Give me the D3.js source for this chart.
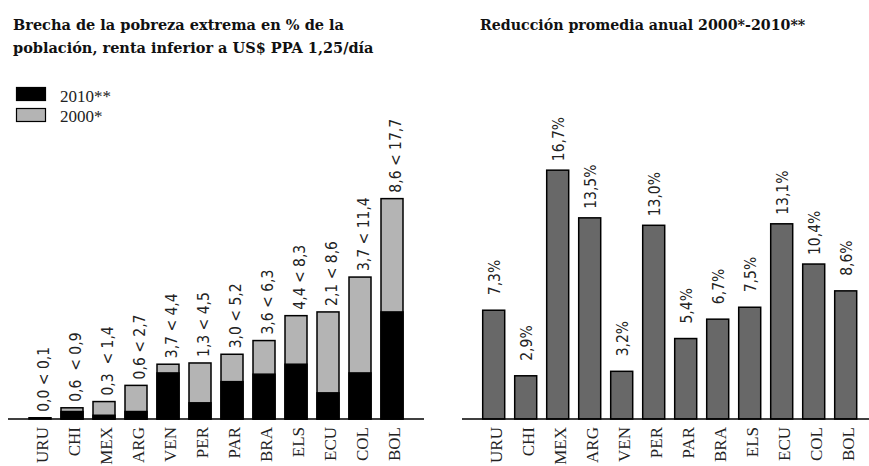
<!DOCTYPE html>
<html><head><meta charset="utf-8">
<script src="https://cdn.jsdelivr.net/npm/d3@7/dist/d3.min.js"></script>
<style>
body{margin:0;background:#fff;}
svg text{white-space:pre;}
</style></head>
<body>
<script>
const categories = ["URU","CHI","MEX","ARG","VEN","PER","PAR","BRA","ELS","ECU","COL","BOL"];
const gap2000 = [0.1,0.9,1.4,2.7,4.4,4.5,5.2,6.3,8.3,8.6,11.4,17.7];
const gap2010 = [0.0,0.6,0.3,0.6,3.7,1.3,3.0,3.6,4.4,2.1,3.7,8.6];
const gapLabels = ["0,0 < 0,1","0,6  < 0,9","0,3  < 1,4","0,6 < 2,7","3,7 < 4,4","1,3 < 4,5","3,0 < 5,2","3,6 < 6,3","4,4 < 8,3","2,1 < 8,6","3,7 < 11,4","8,6 < 17,7"];
const reduction = [7.3,2.9,16.7,13.5,3.2,13.0,5.4,6.7,7.5,13.1,10.4,8.6];
const reductionLabels = ["7,3%","2,9%","16,7%","13,5%","3,2%","13,0%","5,4%","6,7%","7,5%","13,1%","10,4%","8,6%"];
const legendItems = ["2010**","2000*"];
const titleLeft = ["Brecha de la pobreza extrema en % de la","población, renta inferior a US$ PPA 1,25/día"];
const titleRight = ["Reducción promedia anual 2000*-2010**"];

const W=869,H=466, base=419;
const svg=d3.select("body").append("svg").attr("width",W).attr("height",H);
const serif="'Liberation Serif','Times New Roman',serif";
const tserif="'DejaVu Serif',serif";
const sans="'DejaVu Sans Condensed','DejaVu Sans',sans-serif";

// titles
svg.append("g").selectAll("text").data(titleLeft).join("text")
  .attr("x",13).attr("y",(d,i)=>30+i*23).text(d=>d)
  .attr("font-family",tserif).attr("font-weight","bold").attr("font-size",14.5).attr("fill","#111");
svg.append("g").selectAll("text").data(titleRight).join("text")
  .attr("x",480).attr("y",30).text(d=>d)
  .attr("font-family",tserif).attr("font-weight","bold").attr("font-size",14.2).attr("fill","#111");

// legend
const legColors=["#000","#b4b4b4"];
const lg=svg.append("g");
legendItems.forEach((t,i)=>{
  lg.append("rect").attr("x",16.5).attr("y",87.5+i*21).attr("width",29).attr("height",13)
    .attr("fill",legColors[i]).attr("stroke","#000").attr("stroke-width",1.2);
  lg.append("text").attr("x",60).attr("y",102+i*20).text(t)
    .attr("font-family",serif).attr("font-size",17).attr("fill","#222");
});

// left panel
const xL=d3.scaleBand().domain(categories).range([24,408]).paddingInner(0.3125).paddingOuter(0.15625);
const yL=d3.scaleLinear().domain([0,20]).range([base,base-249]);
const gL=svg.append("g");
gL.selectAll("rect.g2000").data(categories).join("rect").attr("class","g2000")
  .attr("x",d=>xL(d)).attr("width",xL.bandwidth())
  .attr("y",(d,i)=>yL(gap2000[i])).attr("height",(d,i)=>base-yL(gap2000[i]))
  .attr("fill","#b4b4b4").attr("stroke","#000").attr("stroke-width",1.5);
gL.selectAll("rect.g2010").data(categories).join("rect").attr("class","g2010")
  .attr("x",d=>xL(d)).attr("width",xL.bandwidth())
  .attr("y",(d,i)=>yL(gap2010[i])).attr("height",(d,i)=>base-yL(gap2010[i]))
  .attr("fill","#000").attr("stroke","#000").attr("stroke-width",1.5);
gL.selectAll("text.lab").data(categories).join("text").attr("class","lab")
  .attr("transform",(d,i)=>`translate(${xL(d)+xL.bandwidth()/2+4},${yL(gap2000[i])-6}) rotate(-90)`)
  .attr("dy","0.35em").text((d,i)=>gapLabels[i])
  .attr("font-family",sans).attr("font-size",15.5).attr("fill","#222");
const axL=svg.append("g").attr("transform",`translate(0,${base})`)
  .call(d3.axisBottom(xL).tickSize(0).tickPadding(0));
axL.select(".domain").remove();
axL.append("line").attr("x1",8).attr("x2",424).attr("stroke","#000").attr("stroke-width",1.5);
axL.selectAll(".tick text").attr("transform","translate(2,8) rotate(-90)")
  .attr("text-anchor","end").attr("dy","0.35em").attr("y",0).attr("x",0)
  .attr("font-family",serif).attr("font-size",17).attr("fill","#222");

// right panel
const xR=d3.scaleBand().domain(categories).range([477.7,861.7]).paddingInner(0.3125).paddingOuter(0.15625);
const yR=d3.scaleLinear().domain([0,18]).range([base,base-268.2]);
const gR=svg.append("g");
gR.selectAll("rect").data(categories).join("rect")
  .attr("x",d=>xR(d)).attr("width",xR.bandwidth())
  .attr("y",(d,i)=>yR(reduction[i])).attr("height",(d,i)=>base-yR(reduction[i]))
  .attr("fill","#686868").attr("stroke","#000").attr("stroke-width",1.5);
gR.selectAll("text.lab").data(categories).join("text").attr("class","lab")
  .attr("transform",(d,i)=>`translate(${xR(d)+xR.bandwidth()/2+1},${yR(reduction[i])-(reductionLabels[i].length<5?15:9)}) rotate(-90)`)
  .attr("dy","0.35em").text((d,i)=>reductionLabels[i])
  .attr("font-family",sans).attr("font-size",15.5).attr("fill","#222");
const axR=svg.append("g").attr("transform",`translate(0,${base})`)
  .call(d3.axisBottom(xR).tickSize(0).tickPadding(0));
axR.select(".domain").remove();
axR.append("line").attr("x1",462).attr("x2",869).attr("stroke","#000").attr("stroke-width",1.5);
axR.selectAll(".tick text").attr("transform","translate(2,8) rotate(-90)")
  .attr("text-anchor","end").attr("dy","0.35em").attr("y",0).attr("x",0)
  .attr("font-family",serif).attr("font-size",17).attr("fill","#222");
</script>
</body></html>
